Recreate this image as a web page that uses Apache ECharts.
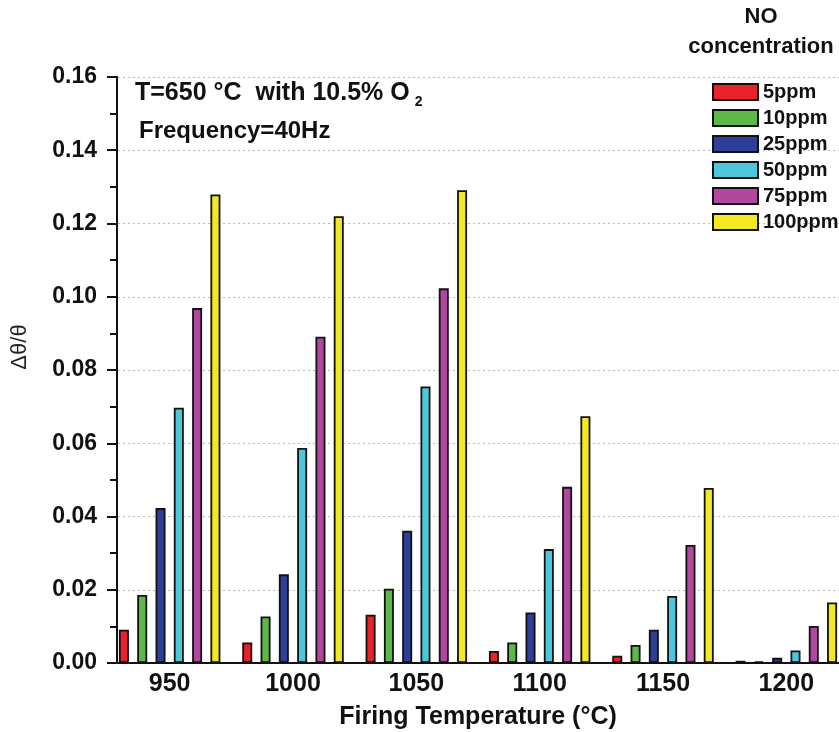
<!DOCTYPE html>
<html>
<head>
<meta charset="utf-8">
<script src="https://cdn.jsdelivr.net/npm/echarts@6/dist/echarts.min.js"></script>
<style>
  html, body { margin: 0; padding: 0; background: #fff; }
  #chart { width: 839px; height: 732px; }
</style>
</head>
<body>
<div id="chart"></div>
<script>
// firing temperatures (x categories)
var categories = ['950', '1000', '1050', '1100', '1150', '1200'];
// NO concentrations (legend)
var seriesNames = ['5ppm', '10ppm', '25ppm', '50ppm', '75ppm', '100ppm'];
// delta theta / theta per concentration
var ppm5   = [0.0091, 0.0056, 0.0132, 0.0033, 0.0020, 0.0006];
var ppm10  = [0.0186, 0.0127, 0.0203, 0.0056, 0.0049, 0.0004];
var ppm25  = [0.0423, 0.0242, 0.0361, 0.0138, 0.0091, 0.0014];
var ppm50  = [0.0697, 0.0587, 0.0755, 0.0311, 0.0183, 0.0034];
var ppm75  = [0.0969, 0.0891, 0.1023, 0.0481, 0.0322, 0.0101];
var ppm100 = [0.1279, 0.1220, 0.1291, 0.0674, 0.0478, 0.0165];
var yTicks = [0, 0.02, 0.04, 0.06, 0.08, 0.10, 0.12, 0.14, 0.16];

// red, green, blue, cyan, magenta, yellow
var colorPalette = ['#e8212b', '#5cb947', '#2e3f97', '#4cc7dc', '#b1479f', '#f3e923'];
var allData = [ppm5, ppm10, ppm25, ppm50, ppm75, ppm100];
var font = '"Liberation Sans", Arial, sans-serif';

var chart = echarts.init(document.getElementById('chart'));

var series = seriesNames.map(function (name, i) {
  return {
    name: name,
    type: 'bar',
    data: allData[i],
    barWidth: 10,
    barGap: '83%',
    itemStyle: {
      color: colorPalette[i],
      borderColor: '#111',
      borderWidth: 1.8
    }
  };
});

var option = {
  backgroundColor: '#fff',
  animation: false,
  textStyle: { fontFamily: font },
  title: [
    {
      text: 'T=650 °C  with 10.5% O{sub|2}',
      left: 130,
      top: 72,
      textStyle: {
        fontFamily: font, fontSize: 25, fontWeight: 'bold', color: '#111',
        rich: { sub: { fontFamily: font, fontSize: 14, fontWeight: 'bold', color: '#111', padding: [18, 0, 0, 5] } }
      }
    },
    {
      text: 'Frequency=40Hz',
      left: 134,
      top: 114,
      textStyle: { fontFamily: font, fontSize: 24, fontWeight: 'bold', color: '#111' }
    }
  ],
  graphic: [
    {
      type: 'text',
      x: 761,
      y: 17,
      style: {
        text: 'NO', fontFamily: font, fontSize: 22, fontWeight: 'bold', fill: '#111',
        align: 'center', verticalAlign: 'middle'
      }
    },
    {
      type: 'text',
      x: 761,
      y: 47,
      style: {
        text: 'concentration', fontFamily: font, fontSize: 22, fontWeight: 'bold', fill: '#111',
        align: 'center', verticalAlign: 'middle'
      }
    },
    {
      type: 'text',
      x: 20,
      y: 347,
      rotation: Math.PI / 2,
      style: {
        text: 'Δθ/θ',
        fontFamily: font,
        fontSize: 22,
        fill: '#222',
        align: 'center',
        verticalAlign: 'middle'
      }
    }
  ],
  legend: {
    data: seriesNames,
    orient: 'vertical',
    left: 707,
    top: 77,
    itemWidth: 45,
    itemHeight: 16,
    itemGap: 6,
    icon: 'rect',
    textStyle: { fontFamily: font, fontSize: 20, lineHeight: 20, fontWeight: 'bold', color: '#111' }
  },
  grid: { left: 108, right: -9, top: 77, bottom: 69, containLabel: false, outerBoundsMode: 'none' },
  xAxis: {
    type: 'category',
    data: categories,
    name: 'Firing Temperature (°C)',
    nameLocation: 'middle',
    nameGap: 42,
    nameTextStyle: { fontFamily: font, fontSize: 25, fontWeight: 'bold', color: '#111' },
    axisLine: { lineStyle: { color: '#111', width: 2 } },
    axisTick: { show: false },
    axisLabel: { fontFamily: font, fontSize: 25, fontWeight: 'bold', color: '#111', margin: 9 }
  },
  yAxis: {
    type: 'value',
    min: 0,
    max: 0.16,
    interval: 0.02,
    offset: -9,
    axisLine: { show: true, lineStyle: { color: '#111', width: 2 } },
    axisTick: { show: true, inside: false, length: 10, lineStyle: { color: '#111', width: 2 } },
    minorTick: { show: true, splitNumber: 2, length: 7, lineStyle: { color: '#111', width: 2 } },
    axisLabel: {
      fontFamily: font, fontSize: 23, fontWeight: 'bold', color: '#111', margin: 20,
      formatter: function (v) {
        var t = yTicks.reduce(function (a, b) { return Math.abs(b - v) < Math.abs(a - v) ? b : a; });
        return t.toFixed(2);
      }
    },
    splitLine: { show: true, lineStyle: { color: '#bbb', type: [2, 3], width: 1 } }
  },
  series: series
};

chart.setOption(option);
</script>
</body>
</html>
